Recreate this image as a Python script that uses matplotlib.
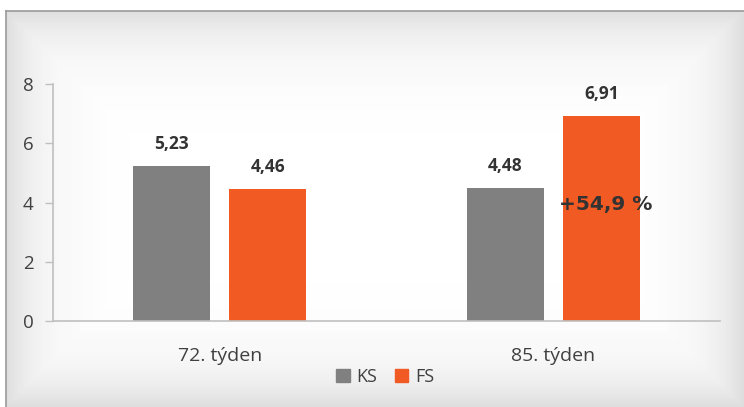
import numpy as np
import matplotlib.pyplot as plt
from matplotlib.patches import Patch

plt.rcParams['font.family'] = ['Open Sans', 'DejaVu Sans']

weeks = ['72. týden', '85. týden']
ks = [5.23, 4.48]
fs = [4.46, 6.91]
ks_labels = ['5,23', '4,48']
fs_labels = ['4,46', '6,91']
change_note = '+54,9 %'

gray = '#808080'
orange = '#F15A22'
text_dark = '#333333'

fig = plt.figure(figsize=(7.44, 4.07), dpi=100)

# frame with soft gray vignette, like the slide background
bg = fig.add_axes([6 / 744, 0, 1 - 6 / 744, 396 / 407])
h, w = 396, 738
yy, xx = np.mgrid[0:h, 0:w]
d = np.minimum.reduce([xx, yy, w - 1 - xx, h - 1 - yy]).astype(float)
shade = 1 - 0.13 * np.exp(-d / 35)
bg.imshow(shade, cmap='gray', vmin=0, vmax=1, aspect='auto', interpolation='bilinear')
bg.set_xticks([])
bg.set_yticks([])
for s in ['right', 'bottom']:
    bg.spines[s].set_visible(False)
for s in ['left', 'top']:
    bg.spines[s].set_color('#9a9a9a')
    bg.spines[s].set_linewidth(1.2)

ax = fig.add_axes([53 / 744, 86 / 407, 667 / 744, 237 / 407])
ax.patch.set_alpha(0)

x = np.arange(len(weeks))
bw = 0.23
off = 0.144
b1 = ax.bar(x - off, ks, bw, color=gray, label='KS')
b2 = ax.bar(x + off, fs, bw, color=orange, label='FS')

for bars, labs in [(b1, ks_labels), (b2, fs_labels)]:
    for b, lab in zip(bars, labs):
        ax.text(b.get_x() + b.get_width() / 2, b.get_height() + 0.45, lab,
                ha='center', va='bottom', fontsize=12.5, fontweight='bold', color=text_dark)

ax.text(x[1] + off + 0.012, 3.92, change_note, ha='center', va='center',
        fontsize=14.5, fontweight='bold', color=text_dark, family='DejaVu Sans')

ax.set_xlim(-0.5, 1.5)
ax.set_ylim(0, 8)
ax.set_yticks([0, 2, 4, 6, 8])
ax.set_xticks(x)
ax.set_xticklabels(weeks)
ax.tick_params(axis='x', length=0, pad=19, labelsize=14, labelcolor='#404040')
ax.tick_params(axis='y', length=6, width=1, color='#bfbfbf', pad=8,
               labelsize=13.5, labelcolor='#404040')
for s in ['top', 'right']:
    ax.spines[s].set_visible(False)
for s in ['left', 'bottom']:
    ax.spines[s].set_color('#bfbfbf')
    ax.spines[s].set_linewidth(1.2)

handles = [Patch(color=gray, label='KS'), Patch(color=orange, label='FS')]
fig.legend(handles=handles, loc='center', bbox_to_anchor=(385 / 744, 1 - 377 / 407),
           ncol=2, frameon=False, fontsize=13, handlelength=0.75, handleheight=0.75,
           handletextpad=0.35, columnspacing=1.0, labelcolor='#404040')

fig.savefig('out.png', dpi=100)
